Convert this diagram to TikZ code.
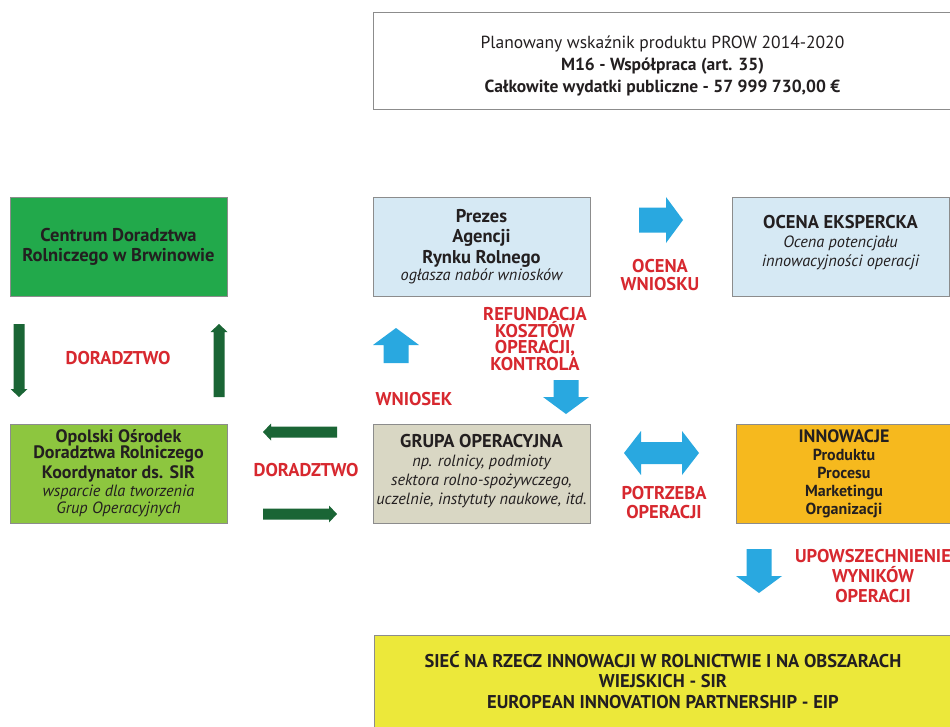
\documentclass[tikz,border=0pt]{standalone}
\usepackage{fontspec}
\setmainfont{PT Sans}
\setlength{\lineskiplimit}{-30pt}

\definecolor{boxline}{HTML}{8C8C8C}
\definecolor{txtdark}{HTML}{231F20}
\definecolor{lblred}{HTML}{D7282F}
\definecolor{cdrgreen}{HTML}{22A94B}
\definecolor{odrgreen}{HTML}{8DC63F}
\definecolor{arrgreen}{HTML}{1A6535}
\definecolor{arrblue}{HTML}{29A8E0}
\definecolor{lightblue}{HTML}{D6E9F4}
\definecolor{beige}{HTML}{D9D7C4}
\definecolor{innoorange}{HTML}{F6B91E}
\definecolor{sirYellow}{HTML}{ECE83A}

\begin{document}
\begin{tikzpicture}[x=1pt,y=-1pt,
box/.style={draw=boxline, line width=.8pt, minimum width=217pt, minimum height=99pt,
	inner sep=0pt, align=center, text=txtdark, font=\fontsize{18.5}{20}\selectfont\bfseries},
txt/.style={inner sep=0pt, align=center, text=txtdark, font=\fontsize{18.5}{19}\selectfont\bfseries},
cdr/.style={box, fill=cdrgreen},
odr/.style={box, fill=odrgreen},
arr/.style={box, fill=lightblue},
grupa/.style={box, fill=beige},
inno/.style={box, fill=innoorange},
sir/.style={box, fill=sirYellow},
lbl/.style={text=lblred, inner sep=0pt, align=center, font=\fontsize{18.5}{18}\selectfont\bfseries},
bluearr/.style={fill=arrblue},
greenarr/.style={fill=arrgreen}
]

\clip (0,0) rectangle (950,726);
\fill[white] (0,0) rectangle (950,726);

\def\it#1{{\mdseries\itshape\fontsize{16.3}{19}\selectfont #1}}

%%% boxes
\node[box, minimum width=579pt, minimum height=97pt] (prow) at (662.5,60.5) {};
\node[txt, font=\fontsize{17.5}{22}\selectfont] (prowtxt) at (662.5,66)
	{Planowany wskaźnik produktu PROW 2014-2020\\
	\textbf{M16 - Współpraca (art. 35)}\\
	\textbf{Całkowite wydatki publiczne - 57 999 730,00 €}};

\node[cdr] (cdr) at (118.5,246.5) {Centrum Doradztwa\\Rolniczego w Brwinowie};
\node[arr] (arr) at (481.5,246.5) {};
\node[txt, font=\fontsize{18.5}{20.5}\selectfont\bfseries] (arrtxt) at (481.5,246.5)
	{Prezes\\Agencji\\Rynku Rolnego\\[-3.5pt]\it{ogłasza nabór wniosków}};
\node[arr] (ocena) at (840.5,246.5) {};
\node[txt] (ocenatxt) at (840.5,242.5) {OCENA EKSPERCKA\\\it{Ocena potencjału}\\\it{innowacyjności operacji}};

\node[odr] (odr) at (118.5,473.5) {};
\node[txt, font=\fontsize{18}{16.5}\selectfont\bfseries] (odrtxt) at (118.5,473)
	{Opolski Ośrodek\\Doradztwa Rolniczego\\[3pt]Koordynator ds. SIR\\[1.5pt]\it{wsparcie dla tworzenia}\\[0.5pt]\it{Grup Operacyjnych}};
\node[grupa] (grupa) at (481.5,473.5) {};
\node[txt] (grupatxt) at (481.5,471)
	{GRUPA OPERACYJNA\\\it{np. rolnicy, podmioty}\\\it{sektora rolno-spożywczego,}\\\it{uczelnie, instytuty naukowe, itd.}};
\node[inno, minimum width=216pt] (inno) at (844,473.5) {};
\node[txt, font=\fontsize{16}{18}\selectfont\bfseries] (innotxt) at (844,474)
	{{\fontsize{18}{18}\selectfont INNOWACJE}\\Produktu\\Procesu\\Marketingu\\Organizacji};

\node[sir, minimum width=578pt, minimum height=96pt] (sir) at (663,683) {};
\node[txt, font=\fontsize{18.5}{20.5}\selectfont\bfseries] (sirtxt) at (663,680)
	{SIEĆ NA RZECZ INNOWACJI W ROLNICTWIE I NA OBSZARACH\\WIEJSKICH - SIR\\EUROPEAN INNOVATION PARTNERSHIP - EIP};

%%% labels
\node[lbl] (dor1) at (118,358) {DORADZTWO};
\node[lbl] (dor2) at (306,470) {DORADZTWO};
\node[lbl] (wniosek) at (414,399) {WNIOSEK};
\node[lbl, font=\fontsize{18.5}{16.8}\selectfont\bfseries] (refund) at (535,339) {REFUNDACJA\\KOSZTÓW\\OPERACJI,\\KONTROLA};
\node[lbl] (ocenaw) at (660,275) {OCENA\\WNIOSKU};
\node[lbl, font=\fontsize{18.5}{19}\selectfont\bfseries] (potrzeba) at (664,503) {POTRZEBA\\OPERACJI};
\node[lbl, font=\fontsize{18.5}{20}\selectfont\bfseries] (upow) at (873,576) {UPOWSZECHNIENIE\\WYNIKÓW\\OPERACJI};

%%% block arrows
\def\bw{46}
\def\bs{25}
\def\bh{17}
\foreach \x/\y/\r/\len in {396/363/90/35, 566/380/-90/34, 639/220/0/44, 759/549/-90/44}{
	\fill[bluearr, shift={(\x,\y)}, rotate=\r]
		(0,-\bs/2)--(\len-\bh,-\bs/2)--(\len-\bh,-\bw/2)--(\len,0)
		--(\len-\bh,\bw/2)--(\len-\bh,\bs/2)--(0,\bs/2)--cycle;
}

\def\gw{17}
\def\gs{11}
\def\gh{8}
\foreach \x/\y/\r/\len in {19/324/-90/73, 219/397/90/73, 337/432/180/74, 263/514/0/74}{
	\fill[greenarr, shift={(\x,\y)}, rotate=\r]
		(0,-\gs/2)--(\len-\gh,-\gs/2)--(\len-\gh,-\gw/2)--(\len,0)
		--(\len-\gh,\gw/2)--(\len-\gh,\gs/2)--(0,\gs/2)--cycle;
}

% double arrow
\fill[bluearr] (624,453)--(641,431)--(641,442)--(682,442)--(682,431)--(699,453)
	--(682,475)--(682,464)--(641,464)--(641,475)--cycle;

\end{tikzpicture}
\end{document}
